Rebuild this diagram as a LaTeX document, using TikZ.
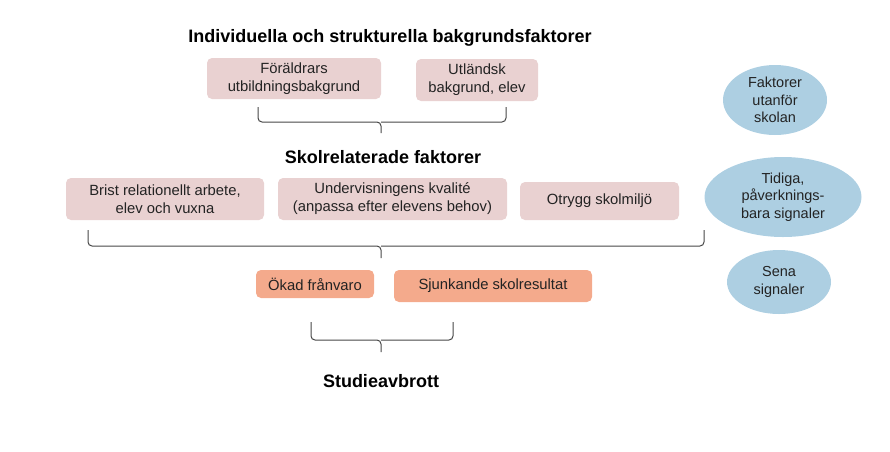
\documentclass[tikz,border=0pt]{standalone}
\usepackage{fontspec}
\setmainfont{Liberation Sans}
\usetikzlibrary{shapes.geometric}
\definecolor{pinkbox}{RGB}{233,209,209}
\definecolor{salmonbox}{RGB}{244,170,140}
\definecolor{bluebox}{RGB}{173,207,226}
\definecolor{bracecol}{RGB}{70,70,70}
\definecolor{txt}{RGB}{35,35,35}
\begin{document}
\begin{tikzpicture}[x=1pt,y=-1pt,
  box/.style={rounded corners=5pt, inner sep=0pt, align=center, text=txt,
    font=\fontsize{14.8}{18}\selectfont},
  pinkb/.style={box, fill=pinkbox},
  salb/.style={box, fill=salmonbox},
  oval/.style={ellipse, fill=bluebox, inner sep=0pt, align=center, text=txt,
    font=\fontsize{14.5}{17.5}\selectfont},
  head/.style={font=\bfseries\fontsize{18}{21}\selectfont, text=black},
  bracestyle/.style={draw=bracecol, line width=1pt, rounded corners=4pt}]
\useasboundingbox (0,0) rectangle (890,451);
% headings
\node[head] (h1) at (390,38) {Individuella och strukturella bakgrundsfaktorer};
\node[head] (h2) at (383,157) {Skolrelaterade faktorer};
\node[head] (h3) at (381,381) {Studieavbrott};
% row 1
\node[pinkb, minimum width=174, minimum height=41] (a1) at (294,78.5) {Föräldrars\\utbildningsbakgrund};
\node[pinkb, minimum width=122, minimum height=42] (a2) at (477,80) {Utländsk\\bakgrund, elev};
% row 2
\node[pinkb, minimum width=198, minimum height=42] (b1) at (165,199) {Brist relationellt arbete,\\elev och vuxna};
\node[pinkb, minimum width=229, minimum height=42] (b2) at (392.5,199) {Undervisningens kvalité\\(anpassa efter elevens behov)};
\node[pinkb, minimum width=159, minimum height=38] (b3) at (599.5,201) {Otrygg skolmiljö};
% row 3
\node[salb, minimum width=118, minimum height=28] (c1) at (315,284) {Ökad frånvaro};
\node[salb, minimum width=198, minimum height=32] (c2) at (493,286) {Sjunkande skolresultat};
% ovals
\node[oval, minimum width=104, minimum height=70] (o1) at (775,100) {Faktorer\\utanför\\skolan};
\node[oval, minimum width=157, minimum height=80] (o2) at (783,197) {Tidiga,\\påverknings-\\bara signaler};
\node[oval, minimum width=104, minimum height=64] (o3) at (779,282) {Sena\\signaler};
% braces
\coordinate (br1l) at (258,107); \coordinate (br1r) at (506,107);
\coordinate (br1m) at (381,122); \coordinate (br1t) at (381,133);
\draw[bracestyle] (br1l) -- (br1l |- br1m) -- (br1m) -- (br1t);
\draw[bracestyle] (br1r) -- (br1r |- br1m) -- (br1m);
\coordinate (br2l) at (88,230); \coordinate (br2r) at (704,230);
\coordinate (br2m) at (381,246); \coordinate (br2t) at (381,258);
\draw[bracestyle] (br2l) -- (br2l |- br2m) -- (br2m) -- (br2t);
\draw[bracestyle] (br2r) -- (br2r |- br2m) -- (br2m);
\coordinate (br3l) at (311,322); \coordinate (br3r) at (453,322);
\coordinate (br3m) at (381,340); \coordinate (br3t) at (381,352);
\draw[bracestyle] (br3l) -- (br3l |- br3m) -- (br3m) -- (br3t);
\draw[bracestyle] (br3r) -- (br3r |- br3m) -- (br3m);
\end{tikzpicture}
\end{document}
